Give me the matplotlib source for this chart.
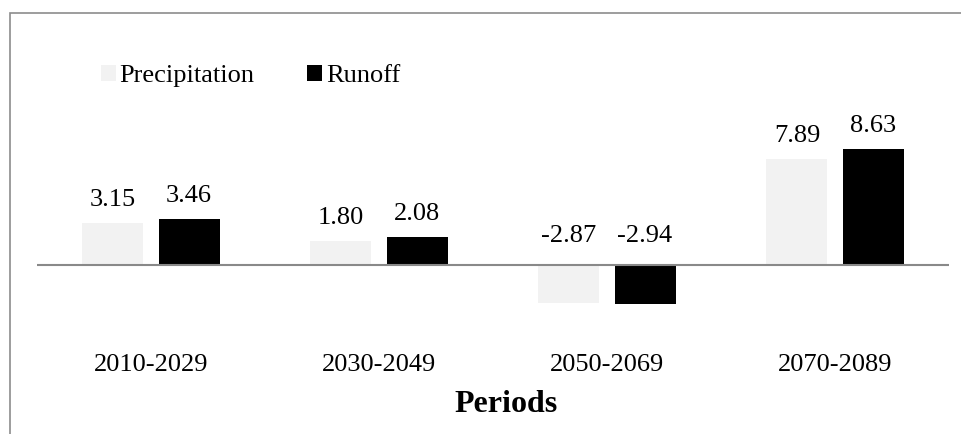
import matplotlib
matplotlib.use("Agg")
import matplotlib.pyplot as plt
from matplotlib.patches import Rectangle
from matplotlib.transforms import blended_transform_factory
import numpy as np

periods = ["2010-2029", "2030-2049", "2050-2069", "2070-2089"]
precipitation = [3.15, 1.80, -2.87, 7.89]
runoff = [3.46, 2.08, -2.94, 8.63]
series_names = ["Precipitation", "Runoff"]
series_colors = ["#f2f2f2", "#000000"]

W, H, DPI = 962, 434, 100
plt.rcParams["font.family"] = ["Liberation Serif", "DejaVu Serif"]

fig = plt.figure(figsize=(W / DPI, H / DPI), dpi=DPI)
fig.patch.set_facecolor("white")

# outer frame (left and top edges visible)
fig.add_artist(Rectangle((9.5 / W, -0.2), 1.2, 1.2 - 12.5 / H,
                         transform=fig.transFigure, fill=False,
                         edgecolor="#8c8c8c", linewidth=1.2))

# plot area in pixels
left_px, right_px = 37, 949
top_px, bottom_px = 100, 340
zero_px = 265
px_per_unit = 13.4

ax = fig.add_axes([left_px / W, 1 - bottom_px / H,
                   (right_px - left_px) / W, (bottom_px - top_px) / H])
ax.set_xlim(-0.5, len(periods) - 0.5)
ax.set_ylim(-(bottom_px - zero_px) / px_per_unit, (zero_px - top_px) / px_per_unit)
for s in ax.spines.values():
    s.set_visible(False)
ax.set_xticks([])
ax.set_yticks([])
ax.patch.set_alpha(0)

x = np.arange(len(periods))
bar_w = 0.2675
offset = 0.1667
bars_p = ax.bar(x - offset, precipitation, bar_w, color=series_colors[0],
                label=series_names[0], zorder=2)
bars_r = ax.bar(x + offset, runoff, bar_w, color=series_colors[1],
                label=series_names[1], zorder=2)

ax.axhline(0, color="#898989", linewidth=1.5, zorder=3)

fs = 19
pt_per_px = 72 / DPI
for xs, vals in ((x - offset, precipitation), (x + offset, runoff)):
    for xi, v in zip(xs, vals):
        if v >= 0:
            ax.annotate(f"{v:.2f}", xy=(xi, v), xytext=(0, 17 * pt_per_px),
                        textcoords="offset points", ha="center", va="baseline",
                        fontsize=fs, color="black")
        else:
            ax.annotate(f"{v:.2f}", xy=(xi, 0), xytext=(0, 23 * pt_per_px),
                        textcoords="offset points", ha="center", va="baseline",
                        fontsize=fs, color="black")

# category labels
trans = blended_transform_factory(ax.transData, fig.transFigure)
for xi, lab in zip(x, periods):
    ax.text(xi, 1 - 371 / H, lab, transform=trans, ha="center", va="baseline",
            fontsize=fs, color="black")

fig.text(506 / W, 1 - 412 / H, "Periods", ha="center", va="baseline",
         fontsize=23, fontweight="bold", color="black")

leg = fig.legend(handles=[bars_p, bars_r], labels=series_names, ncol=2,
                 loc="upper left", bbox_to_anchor=(101 / W, 1 - 65 / H),
                 frameon=False, fontsize=fs, handlelength=0.55,
                 handleheight=0.55, handletextpad=0.15, columnspacing=2.0,
                 borderpad=0, borderaxespad=0)

fig.savefig("out.png", dpi=DPI, facecolor="white")
